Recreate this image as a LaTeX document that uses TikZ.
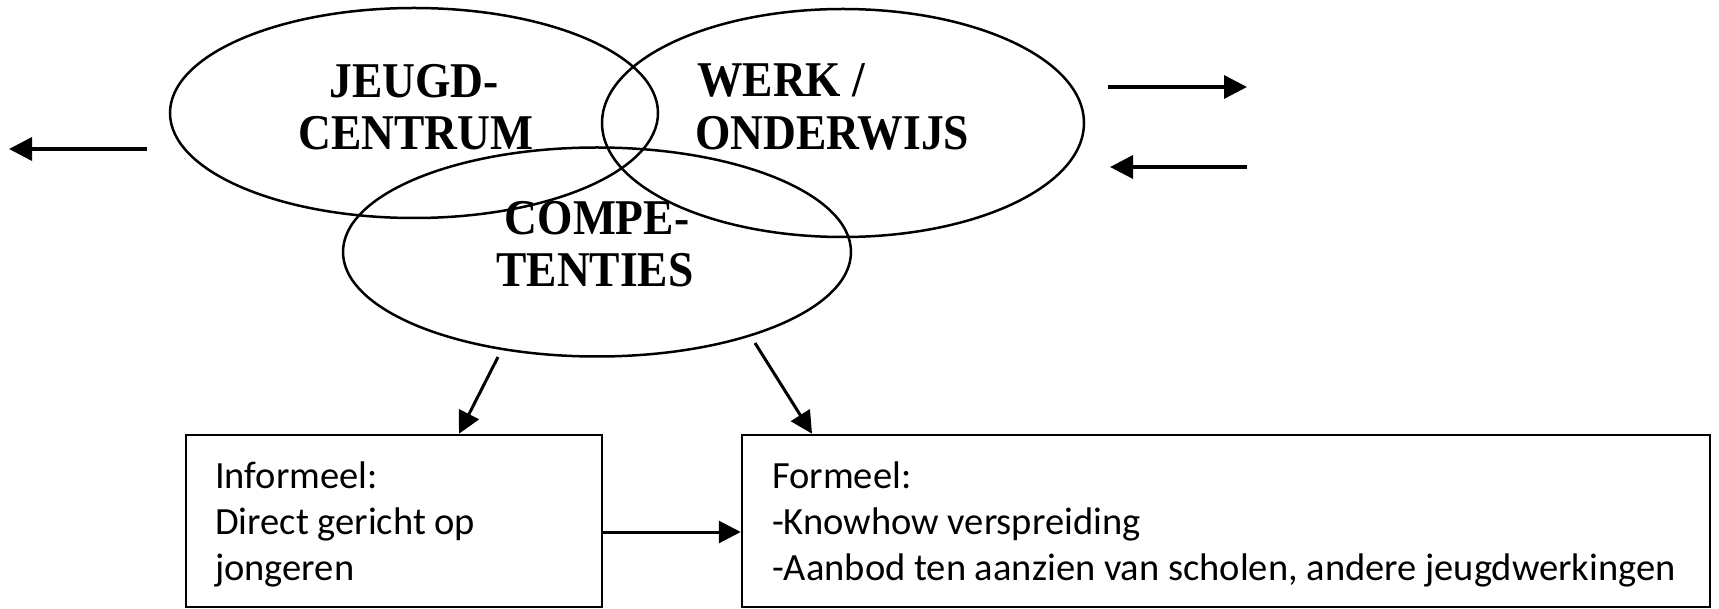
\documentclass[tikz,border=0pt]{standalone}
\usepackage{fontspec}
\setmainfont{Carlito}
\newfontfamily\hdfont{Liberation Serif}
\usetikzlibrary{shapes.geometric,arrows.meta}
\newcommand{\tallhd}[1]{\scalebox{1}[1.1]{#1}}
\begin{document}
\begin{tikzpicture}[x=1pt,y=-1pt,
  venn/.style={ellipse, draw, line width=2.5pt, inner sep=0pt},
  hd/.style={font=\hdfont\bfseries\fontsize{45.5}{54}\selectfont, inner sep=0pt},
  bx/.style={draw, line width=2.5pt, inner sep=0pt},
  tx/.style={font=\fontsize{38.5}{46}\selectfont, inner sep=0pt, anchor=base west},
  arr/.style={line width=3pt, -{Triangle[length=22pt,width=22pt]}},
  harr/.style={line width=3.5pt, -{Triangle[length=23pt,width=23pt]}}]
\useasboundingbox (0,0) rectangle (1719,609);
% ellipses
\node[venn, minimum width=488pt, minimum height=210pt] (e1) at (414,113) {};
\node[venn, minimum width=482pt, minimum height=228pt] (e2) at (843,123) {};
\node[venn, minimum width=508pt, minimum height=209pt] (e3) at (597,252) {};
% ellipse texts
\node[hd, anchor=base] (t1a) at (414,98) {\tallhd{JEUGD-}};
\node[hd, anchor=base] (t1b) at (416,150) {\tallhd{CENTRUM}};
\node[hd, anchor=base west] (t2a) at (697,97) {\tallhd{WERK /}};
\node[hd, anchor=base west] (t2b) at (695,150) {\tallhd{ONDERWIJS}};
\node[hd, anchor=base] (t3a) at (597,235) {\tallhd{COMPE-}};
\node[hd, anchor=base] (t3b) at (595,287) {\tallhd{TENTIES}};
% boxes
\node[bx, minimum width=416pt, minimum height=172pt] (inf) at (394,521) {};
\node[bx, minimum width=968pt, minimum height=172pt] (form) at (1226,521) {};
\node[tx] (i1) at (215,488) {Informeel:};
\node[tx] (i2) at (215,534) {Direct gericht op};
\node[tx] (i3) at (215,580) {jongeren};
\node[tx] (f1) at (772,488) {Formeel:};
\node[tx] (f2) at (772,534) {-Knowhow verspreiding};
\node[tx] (f3) at (772,580) {-Aanbod ten aanzien van scholen, andere jeugdwerkingen};
% free arrow ends
\coordinate (la1) at (147,149);
\coordinate (la2) at (9,149);
\coordinate (ra1) at (1108,87);
\coordinate (ra2) at (1247,87);
\coordinate (rb1) at (1247,167);
\coordinate (rb2) at (1110,167);
\coordinate (s1) at (498,357);
\coordinate (s2) at (755,343);
% arrows
\draw[harr] (la1) -- (la2);
\draw[harr] (ra1) -- (ra2);
\draw[harr] (rb1) -- (rb2);
\draw[arr] (s1) -- ([xshift=65pt]inf.north);
\draw[arr] (s2) -- ([xshift=-414pt]form.north);
\draw[arr] (inf.east |- 0,532) -- (form.west |- 0,532);
\end{tikzpicture}
\end{document}
